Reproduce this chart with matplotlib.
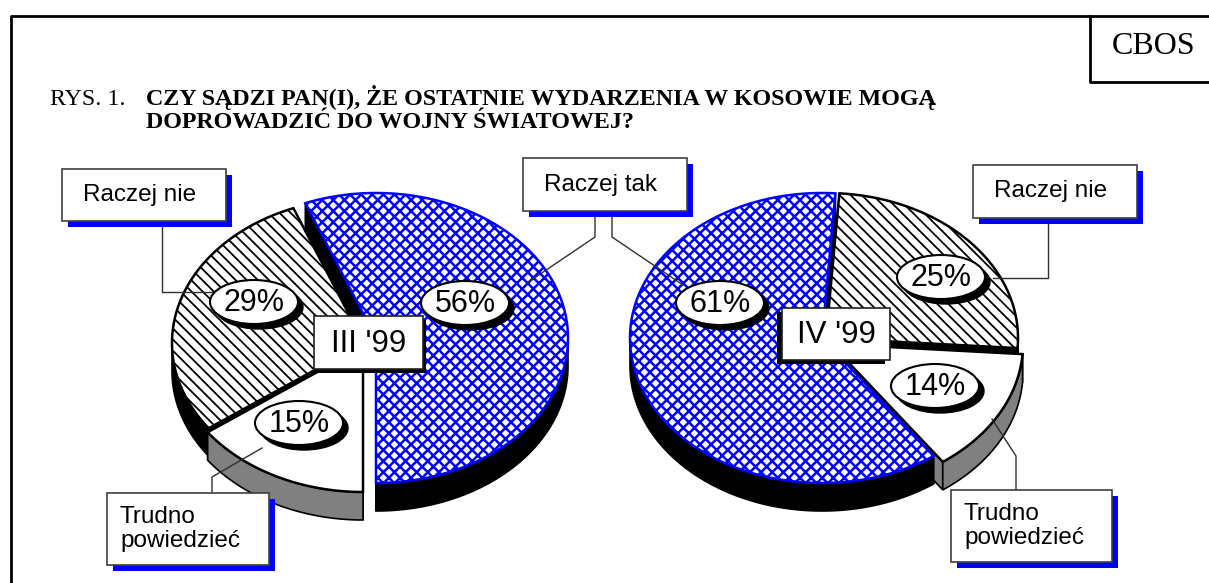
import numpy as np
import matplotlib.pyplot as plt
from matplotlib.patches import Polygon, Rectangle, Ellipse

plt.rcParams['hatch.linewidth'] = 1.3

# data
categories = ["Raczej tak", "Raczej nie", "Trudno powiedzieć"]
march = [56, 29, 15]
april = [61, 25, 14]
periods = ["III '99", "IV '99"]

SANS = ['Liberation Sans', 'DejaVu Sans']
SERIF = ['Liberation Serif', 'DejaVu Serif']

# look of each category: top face, hatch, outline, side wall
tops = ['white', 'white', 'white']
hatches = ['xxx', '\\\\\\', None]
hatch_lw = [1.8, 1.3, 1.3]
edges = ['#0000ff', 'black', 'black']
walls = ['black', 'black', '#808080']

A, B, DEPTH = 192, 145, 28

fig = plt.figure(figsize=(12.09, 5.83), dpi=100)
ax = fig.add_axes([0, 0, 1, 1])
ax.set_xlim(0, 1209)
ax.set_ylim(583, 0)
ax.axis('off')


def rim(x0, y0, t):
    t = np.radians(t)
    return x0 + A * np.cos(t), y0 - B * np.sin(t)


def draw_pie(values, order, start, cx, cy, offsets):
    wedges = []
    ang = start
    for i in order:
        sweep = 360.0 * values[i] / 100
        wedges.append((i, ang - sweep, ang, cx + offsets[i][0], cy + offsets[i][1]))
        ang -= sweep
    # paint from back to front
    wedges.sort(key=lambda w: -np.sin(np.radians((w[1] + w[2]) / 2)))

    # 1) cut faces along the radii
    for i, t1, t2, x0, y0 in wedges:
        for t in (t1, t2):
            px, py = rim(x0, y0, t)
            quad = [(x0, y0), (px, py), (px, py + DEPTH), (x0, y0 + DEPTH)]
            ax.add_patch(Polygon(quad, closed=True, fc=walls[i], ec='black', lw=1.2, zorder=3))
    # 2) outer walls, front half only
    for i, t1, t2, x0, y0 in wedges:
        tt = np.linspace(t1, t2, 400)
        idx = np.flatnonzero(np.sin(np.radians(tt)) <= 0)
        if len(idx) == 0:
            continue
        for run in np.split(idx, np.flatnonzero(np.diff(idx) > 1) + 1):
            xs, ys = rim(x0, y0, tt[run])
            pts = list(zip(xs, ys)) + list(zip(xs[::-1], ys[::-1] + DEPTH))
            ax.add_patch(Polygon(pts, closed=True, fc=walls[i], ec='black', lw=1.2, zorder=4))
    # 3) top faces
    for i, t1, t2, x0, y0 in wedges:
        xs, ys = rim(x0, y0, np.linspace(t1, t2, 200))
        pts = [(x0, y0)] + list(zip(xs, ys))
        with plt.rc_context({'hatch.linewidth': hatch_lw[i]}):
            ax.add_patch(Polygon(pts, closed=True, fc=tops[i], ec=edges[i], hatch=hatches[i],
                                 lw=1.8, zorder=5))


draw_pie(march, [2, 1, 0], -90, 366, 343, [(10, -5), (-2, 0), (-3, 4)])
draw_pie(april, [1, 2, 0], 86, 826, 338, [(-4, 0), (0, 0), (5, 6)])

# leader lines
leaders = [
    [(162, 221), (162, 292), (212, 292)],
    [(595, 211), (595, 237), (527, 283)],
    [(612, 211), (612, 237), (683, 285)],
    [(1048, 218), (1048, 278), (993, 278)],
    [(212, 493), (212, 477), (262, 448)],
    [(1016, 490), (1016, 456), (992, 419)],
]
for ln in leaders:
    xs, ys = zip(*ln)
    ax.plot(xs, ys, color='#303030', lw=1, zorder=50)

# percentage ovals
label_pos = [
    [(465, 303), (254, 302), (299, 423)],
    [(720, 303), (941, 277), (935, 386)],
]
for vals, poss in zip([march, april], label_pos):
    for v, (x, y) in zip(vals, poss):
        ax.add_patch(Ellipse((x + 5, y + 5), 88, 44, fc='black', ec='black', zorder=60))
        ax.add_patch(Ellipse((x, y), 88, 44, fc='white', ec='black', lw=1.5, zorder=61))
        ax.text(x, y + 1, f"{v}%", ha='center', va='center', fontsize=22,
                family=SANS, zorder=62)

# period boxes
period_box = [((314, 316), (423, 369), (3, 4)), ((782, 308), (890, 360), (-5, 4))]
for name, ((x0, y0), (x1, y1), (sx, sy)) in zip(periods, period_box):
    ax.add_patch(Rectangle((x0 + sx, y0 + sy), x1 - x0, y1 - y0, fc='black', zorder=70))
    ax.add_patch(Rectangle((x0, y0), x1 - x0, y1 - y0, fc='white', ec='#202020', lw=1.2, zorder=71))
    ax.text((x0 + x1) / 2, (y0 + y1) / 2 + 1, name, ha='center', va='center',
            fontsize=22.5, family=SANS, zorder=72)

# category callouts
callouts = [
    ((62, 169), (226, 221), categories[1], 'center'),
    ((523, 158), (687, 211), categories[0], 'center'),
    ((973, 165), (1137, 218), categories[1], 'center'),
    ((107, 493), (269, 565), "Trudno\npowiedzieć", 'left'),
    ((951, 490), (1112, 562), "Trudno\npowiedzieć", 'left'),
]
for (x0, y0), (x1, y1), txt, al in callouts:
    ax.add_patch(Rectangle((x0 + 6, y0 + 6), x1 - x0, y1 - y0, fc='#0000ff', zorder=80))
    ax.add_patch(Rectangle((x0, y0), x1 - x0, y1 - y0, fc='white', ec='#404040', lw=1.2, zorder=81))
    if al == 'center':
        ax.text((x0 + x1) / 2 - 4, (y0 + y1) / 2, txt, ha='center', va='center',
                fontsize=17.5, family=SANS, zorder=82)
    else:
        ax.text(x0 + 13, (y0 + y1) / 2, txt, ha='left', va='center', fontsize=17.5,
                family=SANS, linespacing=1.1, zorder=82)

# frame and CBOS box
ax.plot([11, 11, 1209], [583, 16, 16], color='black', lw=2, zorder=90)
ax.plot([1090, 1090, 1209], [16, 82, 82], color='black', lw=2, zorder=90)
ax.text(1154, 46, "CBOS", ha='center', va='center', fontsize=23, family=SERIF, zorder=91)

# title
ax.text(50, 105, "RYS. 1.", ha='left', va='baseline', fontsize=17.3, family=SERIF)
ax.text(146, 105, "CZY SĄDZI PAN(I), ŻE OSTATNIE WYDARZENIA W KOSOWIE MOGĄ",
        ha='left', va='baseline', fontsize=17.3, family=SERIF, weight='bold')
ax.text(146, 128, "DOPROWADZIĆ DO WOJNY ŚWIATOWEJ?",
        ha='left', va='baseline', fontsize=17.3, family=SERIF, weight='bold')

fig.savefig('out.png', dpi=100)
